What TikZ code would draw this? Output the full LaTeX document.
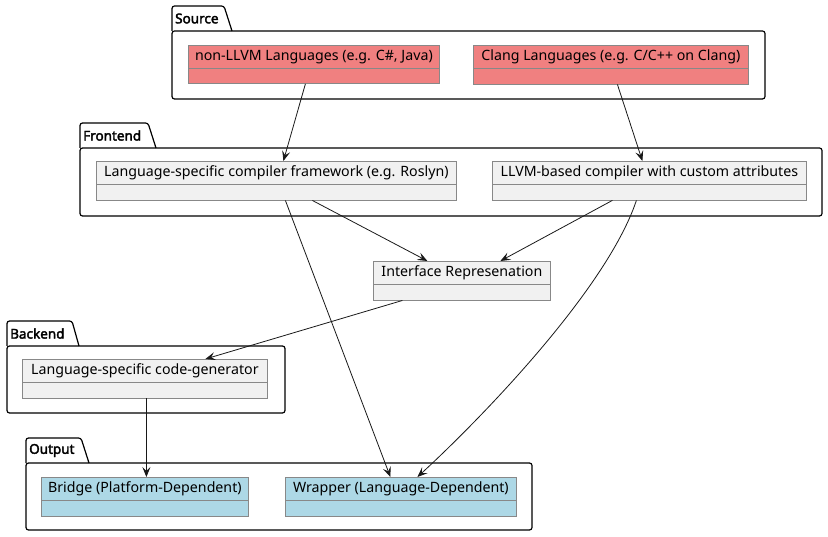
\documentclass[tikz,border=0pt]{standalone}
\usepackage{fontspec}
\setmainfont{Noto Sans}[AutoFakeBold=2.5]
\usetikzlibrary{shapes.multipart,arrows.meta}
\definecolor{srcred}{HTML}{F08080}
\definecolor{outblue}{HTML}{ADD8E6}
\definecolor{clsgray}{HTML}{F1F1F1}
\definecolor{clsline}{HTML}{888888}
\definecolor{depline}{HTML}{181818}

\begin{document}
\begin{tikzpicture}[x=1pt,y=-1pt,
  cls/.style={rectangle split, rectangle split parts=2, draw=clsline, line width=0.8pt,
    fill=clsgray, anchor=north west, inner xsep=0pt, inner ysep=4.2pt,
    rectangle split empty part height=6pt, rectangle split empty part depth=0pt,
    font=\fontsize{14.2}{16}\selectfont},
  srccls/.style={cls, fill=srcred},
  outcls/.style={cls, fill=outblue},
  pkg/.style={draw=black, line width=1.2pt, rounded corners=2.5pt},
  pkglbl/.style={anchor=west, inner sep=0pt, font=\fontsize{13.5}{15}\selectfont\bfseries},
  dep/.style={draw=depline, line width=0.8pt, -{Stealth[length=10pt,width=8pt,inset=4pt]}}]
\useasboundingbox (0,0) rectangle (828,537);

\draw[pkg] (172,31) rectangle (765,99);
\draw[pkg] (172,31) -- (172,6) -- (224,6) -- (232,31);
\node (srclbl) [pkglbl] at (175,18.5) {Source};

\draw[pkg] (80,148) rectangle (822,216);
\draw[pkg] (80,148) -- (80,123) -- (148,123) -- (156,148);
\node (felbl) [pkglbl] at (83,135.5) {Frontend};

\draw[pkg] (7,346) rectangle (285,413);
\draw[pkg] (7,346) -- (7,321) -- (72,321) -- (79,346);
\node (belbl) [pkglbl] at (10,333.5) {Backend};

\draw[pkg] (26,463) rectangle (532,530);
\draw[pkg] (26,463) -- (26,438) -- (81,438) -- (89,463);
\node (outlbl) [pkglbl] at (29,450.5) {Output};

\node (nonllvm) [srccls, minimum width=251pt] at (188,45) {non-LLVM Languages (e.g. C\#, Java)};
\node (clang) [srccls, minimum width=275pt] at (473,45) {Clang Languages (e.g. C/C++ on Clang)};
\node (langfw) [cls, minimum width=360pt] at (96,161) {Language-specific compiler framework (e.g. Roslyn)};
\node (llvmfe) [cls, minimum width=314pt] at (492,161) {LLVM-based compiler with custom attributes};
\node (ir) [cls, minimum width=177pt] at (373,261) {Interface Represenation};
\node (codegen) [cls, minimum width=245pt] at (22,359) {Language-specific code-generator};
\node (bridge) [outcls, minimum width=207pt] at (41,477) {Bridge (Platform-Dependent)};
\node (wrapper) [outcls, minimum width=231pt] at (285,477) {Wrapper (Language-Dependent)};

\draw[dep] ([xshift=-8.5pt]nonllvm.south) -- ([xshift=7pt]langfw.north);
\draw[dep] ([xshift=6.5pt]clang.south) -- ([xshift=-7pt]llvmfe.north);
\draw[dep] ([xshift=36pt]langfw.south) -- ([xshift=-34.5pt]ir.north);
\draw[dep] ([xshift=-37pt]llvmfe.south) -- ([xshift=38.5pt]ir.north);
\draw[dep] ([xshift=-59.5pt]ir.south) -- ([xshift=60.5pt]codegen.north);
\draw[dep] ([xshift=1.5pt]codegen.south) -- ([xshift=1.5pt]bridge.north);
\draw[dep] ([xshift=9pt]langfw.south) -- ([xshift=-10.5pt]wrapper.north);
\draw[dep] ([xshift=-13pt]llvmfe.south) .. controls +(-30,90) and +(60,-55) .. ([xshift=16.5pt]wrapper.north);
\end{tikzpicture}
\end{document}
